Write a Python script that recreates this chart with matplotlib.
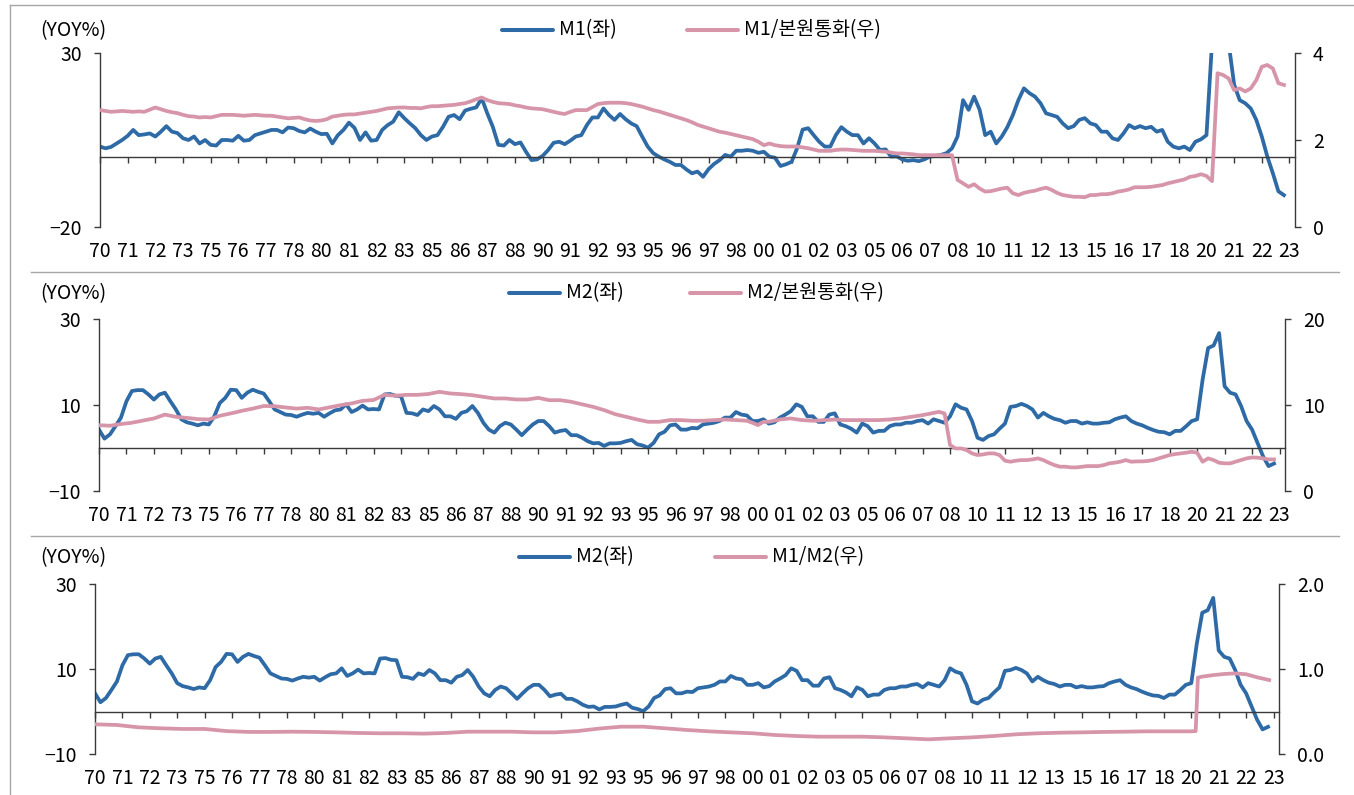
import numpy as np
import matplotlib
matplotlib.use('Agg')
import matplotlib.pyplot as plt
from matplotlib.lines import Line2D

plt.rcParams['font.family'] = ['Noto Sans CJK KR', 'DejaVu Sans']
plt.rcParams['font.size'] = 14

# quarterly readings, 1970Q1 .. 2023Q3
m1_yoy = [
    3.1, 2.6, 3.0, 4.0,   5.0, 6.2, 7.9, 6.4,   6.6, 6.9, 6.0, 7.4,   9.0, 7.4, 7.0, 5.5,
    5.0, 6.0, 4.0, 5.0,   3.6, 3.4, 5.0, 5.0,   4.8, 6.2, 4.8, 5.0,   6.4, 6.9, 7.4, 7.9,
    7.9, 7.2, 8.6, 8.4,   7.6, 7.2, 8.3, 7.4,   6.7, 6.8, 4.0, 6.4,   7.9, 10.0, 8.5, 5.0,
    7.2, 4.8, 5.0, 7.9,   9.3, 10.3, 13.0, 11.3, 9.8, 8.4, 6.4, 5.0,  6.0, 6.4, 8.8, 11.7,
    12.2, 11.0, 13.5, 14.0, 14.4, 17.0, 12.7, 8.8, 3.6, 3.4, 5.0, 3.8, 4.3, 1.6, -0.8, -0.6,
    0.4, 2.1, 4.2, 4.5,   3.8, 4.8, 6.0, 6.4,   9.3, 11.5, 11.5, 14.1, 12.2, 10.8, 12.5, 11.0,
    9.8, 9.0, 6.0, 3.1,   1.2, 0.2, -0.6, -1.3, -2.2, -2.2, -3.5, -4.6, -4.1, -5.6, -3.4, -1.9,
    -0.8, 0.7, 0.2, 1.9,  1.9, 2.1, 1.9, 1.3,   1.6, 0.2, -0.1, -2.5,  -2.0, -1.3, 2.6, 8.0,
    8.4, 6.4, 4.5, 3.1,   3.1, 6.4, 8.7, 7.4,   6.4, 6.4, 4.0, 5.5,   4.0, 2.1, 2.3, 0.2,
    0.3, -0.6, -1.0, -0.8, -1.1, -0.6, 0.2, 0.4, 0.7, 1.2, 2.6, 6.0,  16.5, 13.7, 17.5, 13.7,
    6.4, 7.4, 4.0, 6.0,   8.7, 12.2, 16.5, 19.9, 18.5, 17.5, 15.6, 12.7, 12.2, 11.7, 9.8, 8.4,
    9.0, 10.8, 11.3, 9.8, 9.3, 7.4, 7.4, 5.5,   5.0, 6.9, 9.3, 8.4,   9.0, 8.4, 8.8, 7.4,
    7.9, 4.5, 3.1, 2.6,   3.1, 2.1, 4.5, 5.2,   6.4, 33.0, 35.0, 35.0, 33.0, 21.0, 16.5, 15.6,
    14.1, 10.8, 6.0, 0.2, -4.6, -9.8, -10.9,
]

m1_base = [
    2.69, 2.67, 2.65, 2.66, 2.67, 2.66, 2.65, 2.66, 2.65, 2.70, 2.75, 2.71, 2.67, 2.64, 2.62, 2.58,
    2.55, 2.54, 2.52, 2.53, 2.52, 2.55, 2.58, 2.58, 2.58, 2.57, 2.56, 2.57, 2.58, 2.57, 2.56, 2.56,
    2.54, 2.52, 2.50, 2.51, 2.52, 2.48, 2.45, 2.44, 2.45, 2.48, 2.54, 2.56, 2.58, 2.59, 2.59, 2.61,
    2.63, 2.65, 2.67, 2.70, 2.73, 2.74, 2.75, 2.75, 2.74, 2.74, 2.73, 2.76, 2.78, 2.78, 2.79, 2.80,
    2.81, 2.83, 2.85, 2.89, 2.94, 2.98, 2.92, 2.88, 2.85, 2.84, 2.83, 2.80, 2.78, 2.75, 2.73, 2.72,
    2.71, 2.68, 2.65, 2.62, 2.60, 2.65, 2.69, 2.69, 2.69, 2.76, 2.83, 2.85, 2.86, 2.86, 2.86, 2.85,
    2.83, 2.80, 2.77, 2.73, 2.69, 2.66, 2.62, 2.58, 2.54, 2.50, 2.46, 2.41, 2.35, 2.31, 2.27, 2.23,
    2.19, 2.17, 2.14, 2.11, 2.08, 2.05, 2.02, 1.96, 1.88, 1.92, 1.88, 1.86, 1.85, 1.85, 1.85, 1.83,
    1.81, 1.78, 1.75, 1.75, 1.75, 1.77, 1.78, 1.78, 1.77, 1.76, 1.75, 1.75, 1.75, 1.74, 1.73, 1.71,
    1.69, 1.69, 1.68, 1.67, 1.65, 1.65, 1.65, 1.65, 1.65, 1.65, 1.65, 1.08, 1.00, 0.92, 0.98, 0.88,
    0.81, 0.82, 0.85, 0.88, 0.90, 0.77, 0.73, 0.78, 0.81, 0.83, 0.87, 0.90, 0.85, 0.78, 0.73, 0.71,
    0.69, 0.69, 0.68, 0.73, 0.73, 0.75, 0.75, 0.77, 0.81, 0.83, 0.86, 0.91, 0.91, 0.91, 0.92, 0.94,
    0.96, 1.00, 1.03, 1.06, 1.09, 1.15, 1.17, 1.21, 1.17, 1.05, 3.54, 3.50, 3.42, 3.15, 3.19, 3.12,
    3.19, 3.38, 3.69, 3.73, 3.65, 3.31, 3.27,
]

m2_yoy = [
    4.3, 2.2, 3.2, 5.1,   7.1, 10.9, 13.3, 13.5, 13.5, 12.5, 11.3, 12.5, 12.9, 10.9, 9.0, 6.7,
    6.0, 5.7, 5.3, 5.7,   5.5, 7.4, 10.5, 11.7, 13.6, 13.5, 11.7, 12.9, 13.6, 13.1, 12.7, 10.9,
    9.0, 8.4, 7.8, 7.7,   7.3, 7.8, 8.2, 8.0,   8.2, 7.3, 8.1, 8.8,   9.0, 10.2, 8.4, 9.0,
    9.9, 9.0, 9.1, 9.0,   12.5, 12.6, 12.2, 12.1, 8.2, 8.1, 7.7, 9.0,  8.6, 9.8, 9.0, 7.4,
    7.4, 6.8, 8.2, 8.6,   9.8, 8.2, 5.9, 4.3,   3.6, 5.1, 5.9, 5.5,   4.3, 3.0, 4.3, 5.5,
    6.3, 6.3, 5.1, 3.6,   4.0, 4.2, 3.0, 3.0,   2.4, 1.6, 1.1, 1.2,   0.5, 1.1, 1.1, 1.2,
    1.6, 1.9, 0.9, 0.6,   0.1, 1.2, 3.2, 3.8,   5.3, 5.5, 4.3, 4.3,   4.7, 4.6, 5.5, 5.7,
    5.9, 6.3, 7.1, 7.1,   8.4, 7.8, 7.6, 6.3,   6.3, 6.7, 5.7, 6.0,   7.1, 7.8, 8.6, 10.2,
    9.6, 7.4, 7.4, 6.1,   6.1, 7.8, 8.1, 5.5,   5.1, 4.5, 3.6, 5.7,   5.1, 3.6, 4.0, 4.0,
    5.1, 5.5, 5.5, 5.9,   5.9, 6.3, 6.5, 5.7,   6.7, 6.3, 5.9, 7.4,   10.2, 9.4, 9.0, 6.3,
    2.4, 1.9, 2.8, 3.2,   4.5, 5.7, 9.6, 9.8,   10.3, 9.8, 9.0, 7.1,  8.2, 7.4, 6.8, 6.5,
    5.9, 6.3, 6.3, 5.7,   6.0, 5.7, 5.7, 5.9,   6.0, 6.7, 7.1, 7.4,   6.3, 5.7, 5.3, 4.7,
    4.2, 3.8, 3.7, 3.2,   4.0, 4.0, 5.1, 6.3,   6.7, 16.0, 23.3, 23.9, 26.8, 14.4, 12.9, 12.5,
    9.8, 6.3, 4.3, 1.2,   -1.9, -4.2, -3.6,
]

m2_base = [
    7.67, 7.64, 7.60, 7.70, 7.80, 7.88, 7.95, 8.08, 8.20, 8.33, 8.45, 8.68, 8.90, 8.77, 8.64, 8.58,
    8.53, 8.45, 8.37, 8.35, 8.33, 8.55, 8.76, 8.90, 9.03, 9.18, 9.34, 9.47, 9.60, 9.75, 9.90, 9.89,
    9.88, 9.80, 9.73, 9.66, 9.60, 9.65, 9.69, 9.60, 9.50, 9.62, 9.73, 9.87, 10.00, 10.10, 10.20, 10.35,
    10.50, 10.55, 10.60, 10.90, 11.20, 11.15, 11.10, 11.15, 11.20, 11.20, 11.20, 11.25, 11.30, 11.42, 11.55, 11.45,
    11.36, 11.32, 11.28, 11.22, 11.16, 11.06, 10.97, 10.88, 10.78, 10.78, 10.78, 10.72, 10.66, 10.66, 10.66, 10.75,
    10.85, 10.72, 10.58, 10.58, 10.58, 10.48, 10.39, 10.24, 10.08, 9.94, 9.80, 9.61, 9.42, 9.18, 8.95, 8.80,
    8.64, 8.48, 8.33, 8.20, 8.06, 8.06, 8.06, 8.16, 8.26, 8.26, 8.26, 8.22, 8.18, 8.18, 8.18, 8.22,
    8.26, 8.30, 8.33, 8.30, 8.26, 8.22, 8.18, 7.95, 7.67, 8.06, 8.06, 8.20, 8.33, 8.40, 8.45, 8.35,
    8.26, 8.22, 8.18, 8.20, 8.26, 8.28, 8.33, 8.28, 8.26, 8.26, 8.26, 8.26, 8.26, 8.26, 8.26, 8.30,
    8.33, 8.40, 8.45, 8.55, 8.64, 8.74, 8.84, 8.97, 9.10, 9.22, 9.03, 5.35, 4.96, 4.96, 4.77, 4.38,
    4.19, 4.26, 4.38, 4.38, 4.19, 3.53, 3.41, 3.53, 3.60, 3.60, 3.68, 3.80, 3.60, 3.29, 3.02, 2.83,
    2.83, 2.75, 2.75, 2.83, 2.90, 2.90, 2.90, 3.02, 3.22, 3.30, 3.41, 3.60, 3.41, 3.45, 3.45, 3.50,
    3.60, 3.80, 3.99, 4.19, 4.30, 4.38, 4.46, 4.57, 4.46, 3.41, 3.80, 3.60, 3.29, 3.22, 3.22, 3.41,
    3.60, 3.80, 3.91, 3.88, 3.80, 3.68, 3.68,
]

# M1/M2 ratio is smooth: read once a year, plus the 2020 step
ratio_years = [
    1970, 1971, 1972, 1973, 1974, 1975, 1976, 1977, 1978, 1979, 1980, 1981, 1982, 1983, 1984,
    1985, 1986, 1987, 1988, 1989, 1990, 1991, 1992, 1993, 1994, 1995, 1996, 1997, 1998, 1999,
    2000, 2001, 2002, 2003, 2004, 2005, 2006, 2007, 2008, 2009, 2010, 2011, 2012, 2013, 2014,
    2015, 2016, 2017, 2018, 2019, 2020, 2020.2, 2020.3, 2020.5, 2021, 2021.5, 2022, 2022.5,
    2023, 2023.55,
]
m1_m2 = [
    0.350, 0.342, 0.314, 0.303, 0.295, 0.295, 0.270, 0.260, 0.260, 0.263, 0.260, 0.255, 0.248,
    0.244, 0.244, 0.240, 0.248, 0.263, 0.263, 0.263, 0.255, 0.255, 0.270, 0.300, 0.322, 0.322,
    0.303, 0.283, 0.267, 0.255, 0.244, 0.224, 0.212, 0.204, 0.204, 0.204, 0.196, 0.185, 0.173,
    0.185, 0.196, 0.212, 0.232, 0.244, 0.251, 0.255, 0.260, 0.263, 0.267, 0.267, 0.267, 0.270,
    0.900, 0.912, 0.930, 0.943, 0.950, 0.940, 0.904, 0.872,
]

quarters = 1970 + np.arange(len(m1_yoy)) / 4
tick_labels = ['70', '71', '72', '73', '75', '76', '77', '78', '80', '81', '82', '83', '85',
               '86', '87', '88', '90', '91', '92', '93', '95', '96', '97', '98', '00', '01',
               '02', '03', '05', '06', '07', '08', '10', '11', '12', '13', '15', '16', '17',
               '18', '20', '21', '22', '23']
tick_pos = 1970 + np.arange(len(tick_labels)) * 15 / 12

BLUE = '#2E6AA6'
PINK = '#D795AA'
DARK = '#3A3A3A'
GRID = '#A6A6A6'
FS = 14
W, H = 1354, 795

fig = plt.figure(figsize=(W / 100, H / 100), dpi=100)


def fx(px):
    return px / W


def fy(py):
    return 1 - py / H


def panel(left, right, top, bottom, blue_y, pink_x, pink_y, ylim, yticks,
          rlim, rticks, rlabels, leg, names):
    ax = fig.add_axes([fx(left), fy(bottom), fx(right - left), (bottom - top) / H])
    ax.plot(quarters, blue_y, color=BLUE, lw=2.7, solid_joinstyle='round')
    ax.set_xlim(1970, 2024)
    ax.set_ylim(*ylim)
    ax.set_yticks(yticks)
    for s in ['top', 'right']:
        ax.spines[s].set_visible(False)
    ax.spines['left'].set_color(DARK)
    ax.spines['bottom'].set_color(DARK)
    ax.spines['left'].set_linewidth(1.0)
    ax.spines['bottom'].set_linewidth(1.0)
    ax.spines['bottom'].set_position(('data', 0))
    ax.set_xticks(tick_pos)
    ax.tick_params(axis='x', direction='out', length=4.5, width=1.0, color=DARK,
                   labelbottom=False)
    ax.tick_params(axis='y', direction='out', length=4, width=1.0, color=DARK,
                   pad=9, labelsize=FS)

    sec = ax.secondary_xaxis(0)
    sec.set_xticks(tick_pos, tick_labels)
    sec.tick_params(length=0, pad=10, labelsize=FS)
    sec.spines['bottom'].set_visible(False)

    ax2 = ax.twinx()
    ax2.plot(pink_x, pink_y, color=PINK, lw=2.7, solid_joinstyle='round')
    ax2.set_ylim(*rlim)
    ax2.set_yticks(rticks, rlabels)
    for s in ['top', 'left', 'bottom']:
        ax2.spines[s].set_visible(False)
    ax2.spines['right'].set_color(DARK)
    ax2.spines['right'].set_linewidth(1.0)
    ax2.tick_params(axis='y', direction='out', length=4, width=1.0, color=DARK,
                    pad=9, labelsize=FS)

    # (YOY%) unit label and legend entries
    ly, bx, px_ = leg
    fig.text(fx(40), fy(ly + 1), '(YOY%)', ha='left', va='center', fontsize=FS)
    for x0, col, name in [(bx, BLUE, names[0]), (px_, PINK, names[1])]:
        fig.add_artist(Line2D([fx(x0), fx(x0 + 51)], [fy(ly), fy(ly)], color=col, lw=2.9,
                              solid_capstyle='round'))
        fig.text(fx(x0 + 57), fy(ly), name, ha='left', va='center', fontsize=FS)
    return ax


panel(100, 1295, 53.3, 226.7, m1_yoy, quarters, m1_base, (-20, 30), [-20, 30],
      (0, 4), [0, 2, 4], ['0', '2', '4'], (30, 502, 687), ['M1(좌)', 'M1/본원통화(우)'])
panel(99, 1285, 319.3, 491, m2_yoy, quarters, m2_base, (-10, 30), [-10, 10, 30],
      (0, 20), [0, 10, 20], ['0', '10', '20'], (293, 509, 690), ['M2(좌)', 'M2/본원통화(우)'])
panel(95, 1279, 584.3, 754, m2_yoy, ratio_years, m1_m2, (-10, 30), [-10, 10, 30],
      (0, 2), [0, 1, 2], ['0.0', '1.0', '2.0'], (557, 519, 715), ['M2(좌)', 'M1/M2(우)'])

# outer frame and panel separators
fig.add_artist(Line2D([fx(10), fx(1354)], [fy(5), fy(5)], color=GRID, lw=1.0))
fig.add_artist(Line2D([fx(10), fx(10)], [fy(5), fy(795)], color=GRID, lw=1.0))
for sy in [271.5, 535.5]:
    fig.add_artist(Line2D([fx(31), fx(1339)], [fy(sy), fy(sy)], color=GRID, lw=1.0))

fig.savefig('out.png', dpi=100)
